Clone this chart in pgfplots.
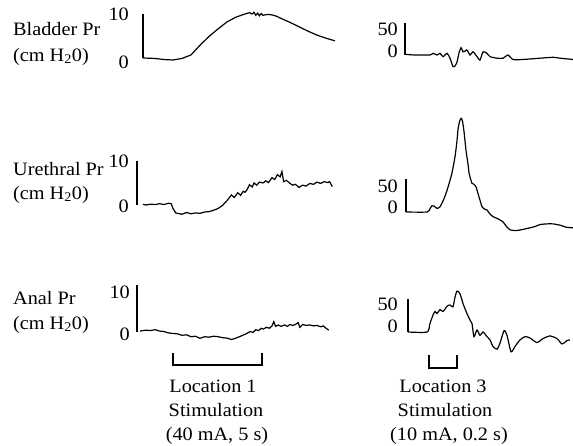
\documentclass[border=0pt]{standalone}
\usepackage{fontspec}
\setmainfont{Liberation Serif}[FakeStretch=1.07]
\usepackage{pgfplots}
\pgfplotsset{compat=1.18}
\pgfplotsset{
  trace/.style={hide axis, clip=false, enlargelimits=false, anchor=south west},
  sig/.style={black, line width=1.2bp, no markers},
  bar/.style={black, line width=2.3bp, no markers},
}
\begin{document}
\fontsize{19}{24}\selectfont
\begin{tikzpicture}
\useasboundingbox (0,0) rectangle (573bp,-446bp);

% ---- left column: location 1, 40 mA, 5 s ----
\begin{axis}[trace, at={(128bp,-66.8bp)}, x=18bp, y=4.4bp,
  xmin=-2.5, xmax=9.5, ymin=-2, ymax=12]
\addplot[bar] coordinates {(-1.67,0) (-1.67,10)};
\addplot[sig] coordinates {
(-1.67,0) (-1.0,-0.1) (-0.5,-0.35) (0,-0.45) (0.5,-0.1) (1.0,0.7) (1.5,2.9)
(2.0,4.9) (2.5,6.6) (3.0,8.2) (3.5,9.3) (4.0,10.0) (4.25,10.3) (4.4,10.0)
(4.5,10.4) (4.6,9.7) (4.7,10.2) (4.8,9.6) (4.9,10.1) (5.0,9.7) (5.25,9.9)
(5.5,9.8) (5.75,9.5) (6.0,9.0) (6.5,8.1) (7.0,7.1) (7.5,6.1) (8.0,5.2)
(8.5,4.5) (9.0,3.9)};
\end{axis}

\begin{axis}[trace, at={(128bp,-222.6bp)}, x=18bp, y=4.4bp,
  xmin=-2.5, xmax=9.5, ymin=-4, ymax=10]
\addplot[bar] coordinates {(-2.0,0) (-2.0,10)};
\addplot[sig] coordinates {
(-1.67,0.15) (-1.5,0.0) (-1.25,0.2) (-1.0,0.1) (-0.75,0.3) (-0.5,0.1)
(-0.25,0.4) (-0.1,0.3) (0.0,-0.8) (0.15,-1.8) (0.25,-1.9) (0.5,-2.1)
(0.75,-1.7) (1.0,-2.0) (1.25,-1.8) (1.5,-1.9) (1.75,-1.6) (2.0,-1.5)
(2.25,-1.2) (2.5,-0.8) (2.75,-0.1) (3.0,1.0) (3.25,2.3) (3.4,1.7) (3.6,2.8)
(3.75,2.2) (3.9,3.1) (4.0,2.9) (4.1,3.4) (4.25,4.6) (4.4,4.1) (4.5,5.0)
(4.65,4.5) (4.8,5.2) (5.0,5.0) (5.15,5.5) (5.3,5.1) (5.5,6.2) (5.65,5.8)
(5.8,6.9) (5.95,6.4) (6.05,7.6) (6.15,5.3) (6.3,5.6) (6.5,4.9) (6.65,4.5)
(6.8,4.7) (7.0,4.0) (7.2,4.5) (7.4,4.3) (7.6,4.9) (7.8,4.7) (8.0,5.2)
(8.2,4.9) (8.4,5.3) (8.6,5.1) (8.7,5.3) (8.85,4.2)};
\end{axis}

\begin{axis}[trace, at={(128bp,-369.6bp)}, x=18bp, y=4.7bp,
  xmin=-2.5, xmax=9.5, ymin=-8, ymax=10]
\addplot[bar] coordinates {(-2.0,0) (-2.0,10)};
\addplot[sig] coordinates {
(-1.83,0.2) (-1.5,0.4) (-1.25,0.3) (-1.0,0.5) (-0.75,0.2) (-0.5,0.1)
(-0.25,-0.2) (0.0,-0.3) (0.25,-0.4) (0.5,-0.7) (0.75,-0.6) (1.0,-1.0)
(1.25,-0.9) (1.5,-1.35) (1.75,-1.0) (2.0,-1.1) (2.25,-0.9) (2.5,-1.0)
(2.75,-1.2) (3.0,-1.3) (3.25,-1.6) (3.5,-1.3) (3.75,-0.9) (4.0,-0.5)
(4.15,-0.2) (4.3,0.1) (4.45,-0.1) (4.6,0.5) (4.75,0.3) (4.9,0.8) (5.0,0.6)
(5.2,1.0) (5.35,0.8) (5.5,1.3) (5.6,2.2) (5.7,1.2) (5.85,1.5) (6.0,1.2)
(6.2,1.5) (6.35,1.2) (6.5,1.6) (6.65,1.4) (6.8,1.6) (6.95,2.0) (7.05,1.0)
(7.2,1.6) (7.4,1.4) (7.6,1.5) (7.8,1.3) (8.0,1.4) (8.2,1.1) (8.35,1.3)
(8.5,0.8) (8.65,0.4)};
% stimulation bracket
\addplot[bar, line width=2bp] coordinates {(0,-4.5) (0,-7) (4.94,-7) (4.94,-4.5)};
\end{axis}

% ---- right column: location 3, 10 mA, 0.2 s ----
\begin{axis}[trace, at={(401bp,-74.2bp)}, x=140bp, y=0.64bp,
  xmin=-0.2, xmax=1.05, ymin=-30, ymax=55]
\addplot[bar] coordinates {(-0.171,0) (-0.171,50)};
\addplot[sig, smooth, tension=0.4] coordinates {
(-0.171,1) (-0.1,0) (0.007,0) (0.029,2.6) (0.057,0) (0.079,2.6) (0.1,-2.6)
(0.129,2.6) (0.15,-5) (0.171,-18) (0.186,-17) (0.2,-11) (0.214,3)
(0.229,11.4) (0.243,5) (0.257,6) (0.271,8) (0.293,0) (0.314,5) (0.343,-2.6)
(0.364,-8) (0.386,5) (0.414,2.6) (0.436,-2.6) (0.486,-5) (0.529,-5)
(0.564,0) (0.6,-7) (0.671,-7) (0.793,-5) (0.886,-3.6) (0.936,-5) (1.029,-7)};
\end{axis}

\begin{axis}[trace, at={(401bp,-238.4bp)}, x=140bp, y=0.66bp,
  xmin=-0.2, xmax=1.05, ymin=-40, ymax=150]
\addplot[bar] coordinates {(-0.164,0) (-0.164,50)};
\addplot[sig, smooth, tension=0.4] coordinates {
(-0.164,0) (-0.014,0) (0.007,5) (0.021,9.5) (0.036,9) (0.057,5.5) (0.079,8)
(0.107,20) (0.129,33) (0.15,48) (0.164,59) (0.186,84) (0.2,108) (0.207,125)
(0.218,137) (0.229,142) (0.239,138) (0.25,122) (0.264,94) (0.279,72)
(0.286,59) (0.3,48) (0.307,43.5) (0.321,42) (0.336,38) (0.35,28) (0.364,18)
(0.379,8) (0.4,4) (0.414,3) (0.436,-3) (0.457,-7) (0.479,-9) (0.507,-12)
(0.529,-15) (0.55,-21) (0.579,-27) (0.629,-28) (0.7,-25) (0.757,-22)
(0.793,-19) (0.843,-18) (0.886,-18) (0.936,-20) (0.979,-23) (1.029,-24)};
\end{axis}

\begin{axis}[trace, at={(401bp,-371.6bp)}, x=140bp, y=0.66bp,
  xmin=-0.2, xmax=1.05, ymin=-60, ymax=70]
\addplot[bar] coordinates {(-0.15,0) (-0.15,50)};
\addplot[sig, smooth, tension=0.4] coordinates {
(-0.15,0) (-0.014,0) (0.007,13) (0.029,26) (0.043,31) (0.057,28) (0.079,34)
(0.1,31) (0.129,39) (0.15,41) (0.171,38) (0.186,53) (0.2,62) (0.221,58)
(0.243,43) (0.271,28) (0.293,18) (0.307,13) (0.321,-7) (0.343,3) (0.364,-5)
(0.386,0) (0.414,-7) (0.436,-12) (0.457,-22) (0.486,-26) (0.507,-17)
(0.536,2) (0.557,-5) (0.586,-30) (0.614,-22) (0.65,-12) (0.686,-7)
(0.721,-9) (0.771,-16) (0.814,-10) (0.864,-6) (0.914,-10) (0.95,-18)
(0.986,-13) (1.007,-12)};
% stimulation bracket
\addplot[bar, line width=2bp] coordinates {(0,-35) (0,-55) (0.2,-55) (0.2,-35)};
\end{axis}

% ---- labels ----
\node[anchor=base west, inner sep=0] at (13bp,-35bp) {Bladder Pr};
\node[anchor=base west, inner sep=0] at (13bp,-61bp) {(cm H\textsubscript{2}0)};
\node[anchor=base west, inner sep=0] at (13bp,-175bp) {Urethral Pr};
\node[anchor=base west, inner sep=0] at (13bp,-199bp) {(cm H\textsubscript{2}0)};
\node[anchor=base west, inner sep=0] at (13bp,-304bp) {Anal Pr};
\node[anchor=base west, inner sep=0] at (13bp,-329bp) {(cm H\textsubscript{2}0)};

\node[anchor=base east, inner sep=0] at (129bp,-20bp) {10};
\node[anchor=base east, inner sep=0] at (129bp,-68bp) {0};
\node[anchor=base east, inner sep=0] at (129bp,-167bp) {10};
\node[anchor=base east, inner sep=0] at (129bp,-212bp) {0};
\node[anchor=base east, inner sep=0] at (130bp,-298bp) {10};
\node[anchor=base east, inner sep=0] at (130bp,-340bp) {0};

\node[anchor=base east, inner sep=0] at (398bp,-35bp) {50};
\node[anchor=base east, inner sep=0] at (398bp,-57bp) {0};
\node[anchor=base east, inner sep=0] at (398bp,-192bp) {50};
\node[anchor=base east, inner sep=0] at (398bp,-213bp) {0};
\node[anchor=base east, inner sep=0] at (398bp,-310bp) {50};
\node[anchor=base east, inner sep=0] at (398bp,-332bp) {0};

\node[anchor=base, inner sep=0] at (213bp,-392bp) {Location 1};
\node[anchor=base, inner sep=0] at (216bp,-416bp) {Stimulation};
\node[anchor=base, inner sep=0] at (217bp,-440bp) {(40 mA, 5 s)};
\node[anchor=base, inner sep=0] at (443bp,-392bp) {Location 3};
\node[anchor=base, inner sep=0] at (445bp,-416bp) {Stimulation};
\node[anchor=base, inner sep=0] at (449bp,-440bp) {(10 mA, 0.2 s)};
\end{tikzpicture}
\end{document}
